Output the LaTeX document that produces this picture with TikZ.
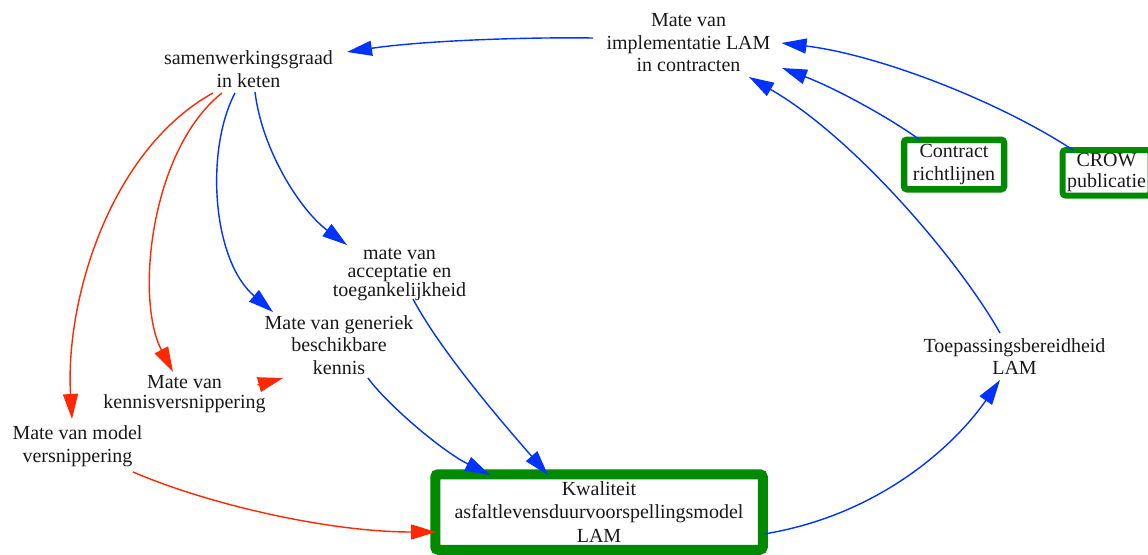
\documentclass[tikz,border=0pt]{standalone}
\usepackage{fontspec}
\setmainfont{Liberation Serif}
\usetikzlibrary{arrows.meta,calc}
\definecolor{linkblue}{RGB}{0,51,255}
\definecolor{linkred}{RGB}{255,40,0}
\definecolor{boxgreen}{RGB}{0,138,0}
\begin{document}
\begin{tikzpicture}[x=1pt,y=-1pt,
  var/.style={align=center,inner sep=1pt,text=black!90,font=\fontsize{20}{22.5}\selectfont},
  keybox/.style={var,draw=boxgreen,fill=white,rounded corners=3pt},
  link/.style={line width=1.4pt,-{Triangle[length=25pt,width=15pt]}},
  poslink/.style={link,draw=linkblue},
  neglink/.style={link,draw=linkred}]
\useasboundingbox (0,0) rectangle (1148,554);

% variables
\node[var] (samen) at (248.5,69) {samenwerkingsgraad\\in keten};
\node[var] (impl) at (688.5,43) {Mate van\\implementatie LAM\\in contracten};
\node[var,font=\fontsize{20}{18}\selectfont] (accept) at (399.5,274.5) {mate van\\acceptatie en\\toegankelijkheid};
\node[var] (generiek) at (339,345) {Mate van generiek\\beschikbare\\kennis};
\node[var,font=\fontsize{20}{20}\selectfont] (kennis) at (184.5,394) {Mate van\\kennisversnippering};
\node[var,font=\fontsize{20}{23.5}\selectfont] (model) at (77.5,446) {Mate van model\\versnippering};
\node[var] (toep) at (1014.5,356.5) {Toepassingsbereidheid\\LAM};

% key boxes
\node[keybox,line width=6.5pt,minimum width=100pt,minimum height=49.5pt] (contract) at (954,164.5) {Contract\\richtlijnen};
\node[keybox,line width=6pt,minimum width=88pt,minimum height=45.5pt,inner sep=0pt,font=\fontsize{20}{21}\selectfont] (crow) at (1106.5,172.75) {CROW\\publicatie};
\node[keybox,line width=10pt,minimum width=327.5pt,minimum height=75.5pt,font=\fontsize{20}{23.5}\selectfont] (kwal) at (599,512) {Kwaliteit\\asfaltlevensduurvoorspellingsmodel\\LAM};

% positive links
\draw[poslink] ($(impl)+(-95.5,-5)$) .. controls (520,37) and (420,41) .. ($(samen)+(98.5,-17)$);
\draw[poslink] ($(contract)+(-34,-24.5)$) .. controls (890,118) and (835,88) .. ($(impl)+(93.5,25)$);
\draw[poslink] ($(crow)+(-33.5,-22.75)$) .. controls (1000,102) and (880,55) .. ($(impl)+(93,0)$);
\draw[poslink] ($(toep)+(-14.5,-23.5)$) .. controls (960,262) and (855,138) .. ($(impl)+(60.5,34)$);
\draw[poslink] ($(samen)+(6.5,23)$) .. controls (262,150) and (300,210) .. ($(accept)+(-52.5,-29.5)$);
\draw[poslink] ($(samen)+(-13.5,24)$) .. controls (205,150) and (212,260) .. ($(generiek)+(-66,-33)$);
\draw[poslink] ($(accept)+(13.5,24.5)$) .. controls (440,350) and (500,420) .. ($(kwal)+(-51,-37)$);
\draw[poslink] ($(generiek)+(29,33)$) .. controls (385,402) and (440,450) .. ($(kwal)+(-109,-37)$);
\draw[poslink] ($(kwal)+(165,22)$) .. controls (880,515) and (955,445) .. ($(toep)+(-14.5,23.5)$);

% negative links
\draw[neglink] ($(samen)+(-26.5,24)$) .. controls (150,150) and (135,300) .. ($(kennis)+(-11.5,-22)$);
\draw[neglink] ($(samen)+(-35.5,24)$) .. controls (110,150) and (65,300) .. ($(model)+(-5.5,-27)$);
\draw[neglink] ($(model)+(55.5,26)$) .. controls (210,505) and (330,532) .. ($(kwal)+(-163,20)$);
\draw[neglink] ($(kennis)+(73,-9)$) -- ($(generiek)+(-56,33)$);
\end{tikzpicture}
\end{document}
